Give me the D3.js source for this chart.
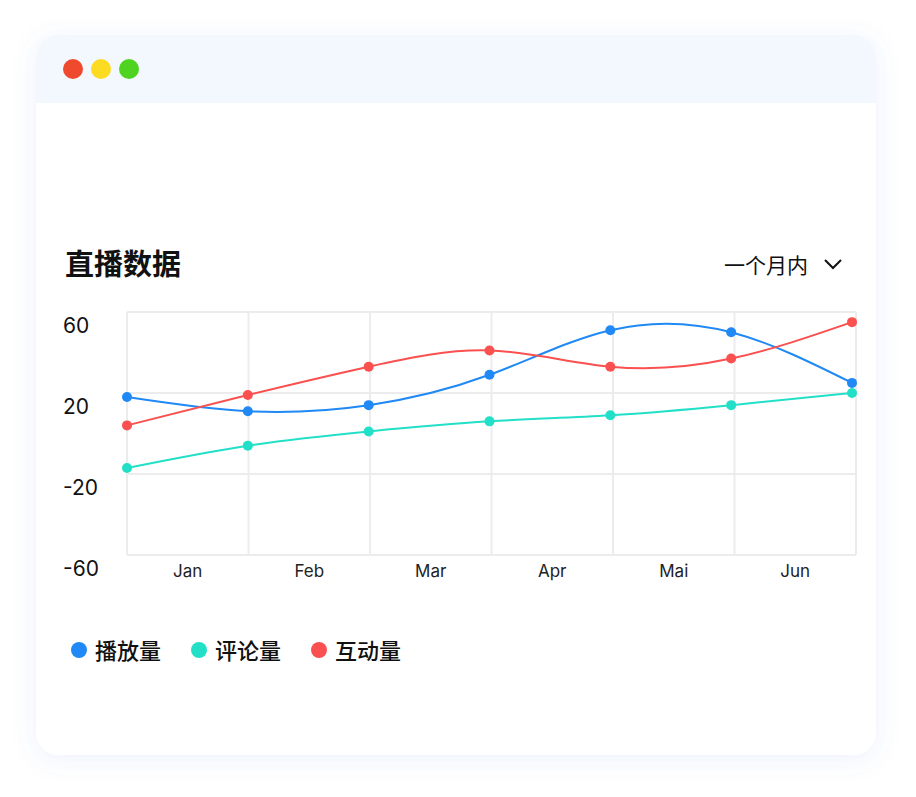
<!DOCTYPE html>
<html><head><meta charset="utf-8">
<script src="https://cdn.jsdelivr.net/npm/d3@7"></script>
<style>
body{margin:0;background:#fff;font-family:Inter,"Noto Sans CJK SC",sans-serif;}
</style></head>
<body><svg id="chart" width="916" height="797"></svg>
<script>
const months = ["Jan","Feb","Mar","Apr","Mai","Jun"];
const yTicks = [-60,-20,20,60];
const playCount = [18,11,14,29,51,50,25];
const comments = [-17,-6,1,6,9,14,20];
const interactions = [4,19,33,41,33,37,55];
const seriesNames = ["播放量","评论量","互动量"];
const seriesColors = ["#2089f5","#22e0c8","#fa5050"];

const svg = d3.select("#chart");
const defs = svg.append("defs");
const f = defs.append("filter").attr("id","sh").attr("x","-10%").attr("y","-10%").attr("width","120%").attr("height","120%");
f.append("feDropShadow").attr("dx",0).attr("dy",4).attr("stdDeviation",12).attr("flood-color","#4a78e0").attr("flood-opacity",0.1);
const clip = defs.append("clipPath").attr("id","card");
clip.append("rect").attr("x",36).attr("y",35).attr("width",840).attr("height",720).attr("rx",22);

svg.append("rect").attr("x",36).attr("y",35).attr("width",840).attr("height",720).attr("rx",22).attr("fill","#fff").attr("filter","url(#sh)");
svg.append("rect").attr("x",36).attr("y",35).attr("width",840).attr("height",68).attr("fill","#f3f7fe").attr("clip-path","url(#card)");
["#ef4a2e","#fbdc22","#4fd321"].forEach((c,i)=>svg.append("circle").attr("cx",73+i*28).attr("cy",69).attr("r",10).attr("fill",c));

svg.append("text").attr("x",65).attr("y",275).attr("font-size",29).attr("font-weight",700).attr("fill","#111").text("直播数据");
svg.append("text").attr("x",808).attr("y",273).attr("text-anchor","end").attr("font-size",21).attr("fill","#111").text("一个月内");
svg.append("path").attr("d","M825,260 L833,268 L841,260").attr("fill","none").attr("stroke","#111").attr("stroke-width",2);

const pLeft=127,pRight=856,pTop=312,pBottom=555;
const x = d3.scaleLinear().domain([0,6]).range([pLeft,852]);
const xg = d3.scaleLinear().domain([0,6]).range([pLeft,pRight]);
const y = d3.scaleLinear().domain([-60,60]).range([pBottom,pTop]);
const g = svg.append("g");
d3.range(7).forEach(i=>g.append("line").attr("x1",xg(i)).attr("x2",xg(i)).attr("y1",pTop).attr("y2",pBottom).attr("stroke","#ececec").attr("stroke-width",2));
yTicks.forEach(t=>{
  g.append("line").attr("x1",pLeft).attr("x2",pRight).attr("y1",y(t)).attr("y2",y(t)).attr("stroke","#ececec").attr("stroke-width",2);
  g.append("text").attr("x",63).attr("y",y(t)+21).attr("font-size",21).attr("fill","#111").text(t);
});
months.forEach((m,i)=>g.append("text").attr("x",(xg(i)+xg(i+1))/2).attr("y",577).attr("text-anchor","middle").attr("font-size",17).attr("fill","#222").text(m));

const line = d3.line().x((d,i)=>x(i)).y(d=>y(d)).curve(d3.curveNatural);
[playCount,comments,interactions].forEach((s,k)=>{
  g.append("path").attr("d",line(s)).attr("fill","none").attr("stroke",seriesColors[k]).attr("stroke-width",2);
  s.forEach((v,i)=>g.append("circle").attr("cx",x(i)).attr("cy",y(v)).attr("r",5).attr("fill",seriesColors[k]));
});

let lx=79;
seriesNames.forEach((n,k)=>{
  svg.append("circle").attr("cx",lx).attr("cy",650).attr("r",8).attr("fill",seriesColors[k]);
  svg.append("text").attr("x",lx+16).attr("y",659).attr("font-size",22).attr("font-weight",500).attr("fill","#111").text(n);
  lx+=120;
});
</script></body></html>
